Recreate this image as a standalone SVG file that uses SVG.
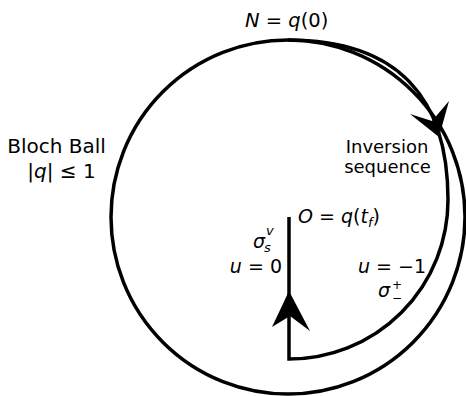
<svg xmlns="http://www.w3.org/2000/svg" width="466" height="396" viewBox="0 0 466 396">
<style>
.ln{fill:none;stroke:#000;stroke-width:3.5;stroke-linejoin:miter}
.ah{fill:#000;stroke:none}
text{font-family:"DejaVu Sans","Liberation Sans",sans-serif;fill:#000}
.m{font-style:italic}
.s{font-size:13px}
.p{font-size:12px}
</style>
<rect width="466" height="396" fill="#fff"/>
<g id="ball">
<circle class="ln" cx="288" cy="217" r="177"/>
</g>
<g id="connectors">
<path class="ln" d="M 288 40 C 400 40 448 100 448 200 A 159 159 0 0 1 289 359 L 289 217"/>
<polygon class="ah" points="439,137 410,114 432,121 449,101"/>
<polygon class="ah" points="289,291 272,327 290,316 310,331"/>
</g>
<g id="label-N">
<text x="245" y="27" font-size="19.5"><tspan class="m">N</tspan> = <tspan class="m">q</tspan>(0)</text>
</g>
<g id="label-ball">
<text x="56.5" y="153" font-size="20" text-anchor="middle">Bloch Ball</text>
<text x="61.5" y="178" font-size="20" text-anchor="middle">|<tspan class="m">q</tspan>| ≤ 1</text>
</g>
<g id="label-inversion">
<text x="387" y="153" font-size="18" text-anchor="middle">Inversion</text>
<text x="387.5" y="173" font-size="18" text-anchor="middle">sequence</text>
</g>
<g id="label-O">
<text x="298" y="223" font-size="19"><tspan class="m">O</tspan> = <tspan class="m">q</tspan>(<tspan class="m">t</tspan><tspan class="m s" dy="4">f</tspan><tspan dy="-4">)</tspan></text>
</g>
<g id="label-u0">
<text x="253" y="248" font-size="19" class="m">σ</text>
<text x="266" y="235" class="m s">v</text>
<text x="264" y="252" class="m s">s</text>
<text x="282" y="273" font-size="19" text-anchor="end"><tspan class="m">u</tspan> = 0</text>
</g>
<g id="label-u1">
<text x="358" y="273" font-size="19"><tspan class="m">u</tspan> = −1</text>
<text x="378" y="297" font-size="19" class="m">σ</text>
<text x="392" y="289" class="p">+</text>
<text x="392" y="302" class="p">−</text>
</g>
</svg>
